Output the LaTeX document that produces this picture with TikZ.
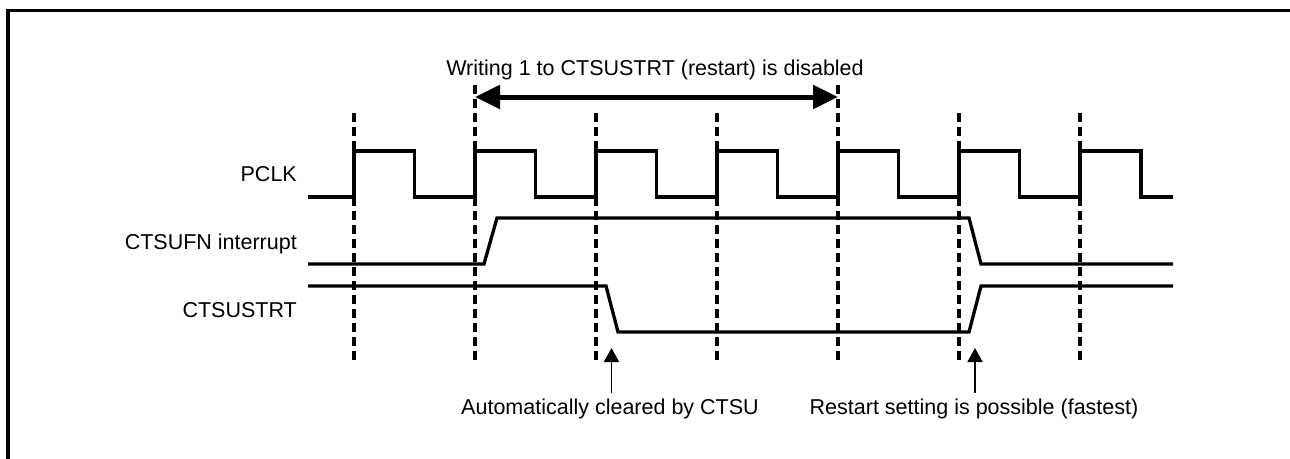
\documentclass[tikz,border=0pt]{standalone}
\usepackage{fontspec}
\setmainfont{Liberation Sans}
\usetikzlibrary{arrows.meta}
\begin{document}
\begin{tikzpicture}[x=1pt,y=-1pt,
  sig/.style={line width=3.3pt, line join=miter},
  gridline/.style={line width=3.2pt, dash pattern=on 9pt off 5pt},
  lbl/.style={font=\fontsize{21.5}{25}\selectfont, inner sep=0pt},
  frameline/.style={line width=3.4pt},
  bigarrow/.style={line width=5pt, {Triangle[length=25pt,width=23pt]}-{Triangle[length=25pt,width=23pt]}},
  uparrow/.style={line width=1.8pt, -{Triangle[length=14pt,width=15pt]}}]
\useasboundingbox (0,0) rectangle (1290,458);
% frame
\draw[frameline] (8,460) -- (8,10.5) -- (1292,10.5);
% dashed time lines
\foreach \x in {354,596,717,959,1080} \draw[gridline] (\x,113) -- (\x,363);
\foreach \x in {475,838} \draw[gridline] (\x,85) -- (\x,363);
% labels
\node[lbl, anchor=base east] (pclk) at (297,181) {PCLK};
\node[lbl, anchor=base east] (fn) at (297,249) {CTSUFN interrupt};
\node[lbl, anchor=base east] (strt) at (297,317) {CTSUSTRT};
% PCLK
\draw[sig] (308,197) -- (354,197) -- (354,151) -- (414.5,151) -- (414.5,197)
  -- (475,197) -- (475,151) -- (535.5,151) -- (535.5,197)
  -- (596,197) -- (596,151) -- (656.5,151) -- (656.5,197)
  -- (717,197) -- (717,151) -- (777.5,151) -- (777.5,197)
  -- (838,197) -- (838,151) -- (898.5,151) -- (898.5,197)
  -- (959,197) -- (959,151) -- (1019.5,151) -- (1019.5,197)
  -- (1080,197) -- (1080,151) -- (1141,151) -- (1141,197) -- (1173,197);
% CTSUFN interrupt
\draw[sig] (308,264) -- (484,264) -- (497,218) -- (969,218) -- (981,264) -- (1173,264);
% CTSUSTRT
\draw[sig] (308,286) -- (606,286) -- (618,332) -- (969,332) -- (981,286) -- (1173,286);
% title and double arrow
\node[lbl, anchor=base] (title) at (655,75) {Writing 1 to CTSUSTRT (restart) is disabled};
\coordinate (aL) at (475,97);
\coordinate (aR) at (838,97);
\draw[bigarrow] (aL) -- (aR);
% bottom notes
\node[lbl, anchor=base] (auto) at (610,414) {Automatically cleared by CTSU};
\node[lbl, anchor=base] (rest) at (974,414) {Restart setting is possible (fastest)};
\coordinate (t1) at (611.5,393);
\coordinate (h1) at (611.5,348);
\coordinate (t2) at (975,393);
\coordinate (h2) at (975,348);
\draw[uparrow] (t1) -- (h1);
\draw[uparrow] (t2) -- (h2);
\end{tikzpicture}
\end{document}
